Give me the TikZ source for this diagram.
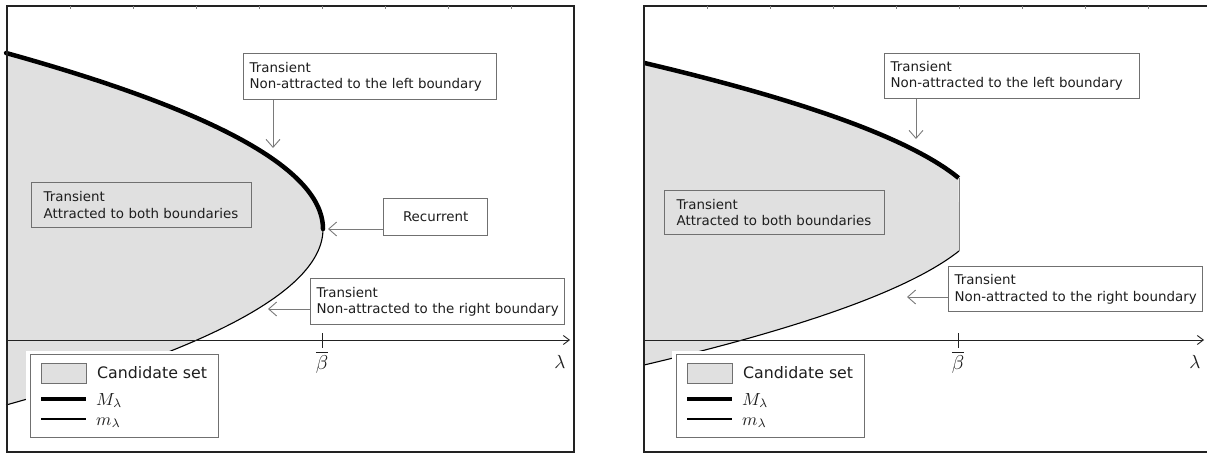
\documentclass[tikz,border=0pt]{standalone}
\usepackage{graphicx}
\usepackage{fontspec}
\setmainfont{DejaVu Sans}
\usetikzlibrary{arrows.meta}
\definecolor{cand}{HTML}{E0E0E0}
\definecolor{boxgray}{HTML}{707070}
\definecolor{arrgray}{HTML}{7A7A7A}
\definecolor{txt}{HTML}{1E1E1E}
\definecolor{framec}{HTML}{222222}
\newcommand{\bigmath}[2]{\scalebox{#1}{$#2$}}
\begin{document}
\begin{tikzpicture}[x=1pt,y=-1pt,
  infobox/.style={draw=boxgray, line width=1.3pt, fill=white, text=txt, anchor=north west,
    align=left, inner xsep=8pt, inner ysep=0pt, font=\fontsize{13.4}{16.3}\selectfont},
  arr/.style={draw=arrgray, line width=0.9pt, -{Straight Barb[length=8pt,width=14pt,line width=0.9pt]}},
  axisline/.style={draw=framec, line width=0.9pt, -{Straight Barb[length=6pt,width=9pt]}},
  framebox/.style={draw=framec, line width=1.4pt},
  topticks/.style={draw=gray, line width=0.8pt},
  Mline/.style={line width=4.5pt, black},
  mline/.style={line width=1.1pt, black},
  legbox/.style={draw=boxgray, line width=1.3pt, fill=white, inner sep=0pt},
  swatch/.style={draw=boxgray, line width=1.2pt, fill=cand, inner sep=0pt},
  legtext/.style={inner sep=0pt, text=txt, font=\fontsize{15.8}{18}\selectfont},
  legmath/.style={inner sep=0pt, text=txt},
  axlabel/.style={inner sep=0pt, text=txt}
]
\useasboundingbox (0,0) rectangle (1207,455);
\fill[white] (0,0) rectangle (1207,455);

% ================= LEFT PANEL =================
\fill[cand] (7,53) -- plot[domain=53:405, samples=80] ({323-1.023*((\x-229)/10)^2},\x) -- cycle;
\draw[Mline, line cap=round] plot[domain=53:229, samples=60] ({323-1.023*((\x-229)/10)^2},\x);
\draw[mline] plot[domain=229:405, samples=60] ({323-1.023*((\x-229)/10)^2},\x);
\draw[framebox] (7,6) rectangle (574,452);
\foreach \k in {1,...,8} \draw[topticks] (7+63*\k,6) -- ++(0,3);
\coordinate (axL0) at (7,340);
\coordinate (axL1) at (570,340);
\draw[axisline] (axL0) -- (axL1);
\draw[framec, line width=1pt] (322,333) -- (322,348);
\node[axlabel] (betaL) at (322,362) {\bigmath{2}{\overline{\beta}}};
\node[axlabel] (lamL) at (560,362) {\bigmath{1.9}{\lambda}};

\node[infobox, inner xsep=6pt, text width=241pt, minimum height=46pt] (L1) at (243,53) {Transient\\\mbox{Non-attracted to the left boundary}};
\node[infobox, fill=cand, inner xsep=12pt, text width=196pt, minimum height=45pt] (L2) at (31,182) {Transient\\\mbox{Attracted to both boundaries}};
\node[infobox, align=center, inner xsep=0pt, text width=104pt, minimum height=37pt] (Rec) at (383,198) {Recurrent};
\node[infobox, inner xsep=6pt, text width=242pt, minimum height=46pt] (L4) at (310,278) {Transient\\\mbox{Non-attracted to the right boundary}};

\coordinate (tL1) at (273,148);
\coordinate (tRec) at (328,229);
\coordinate (tL4) at (268,309);
\draw[arr] (L1.south -| tL1) -- (tL1);
\draw[arr] (Rec.west |- tRec) -- (tRec);
\draw[arr] (L4.west |- tL4) -- (tL4);

\fill[white] (26,351) rectangle (222,441);
\node[legbox, minimum width=188pt, minimum height=83pt, anchor=north west] (LegL) at (30,354) {};
\node[swatch, minimum width=45pt, minimum height=20pt, anchor=north west] (swL) at (41,363) {};
\node[legtext, anchor=west] (cL) at (97,373) {Candidate set};
\draw[Mline] (41,399) -- (86,399);
\draw[mline] (41,419) -- (86,419);
\node[legmath, anchor=base west] (ML) at (96,405) {\bigmath{1.75}{M_\lambda}};
\node[legmath, anchor=base west] (mL) at (96,425) {\bigmath{1.75}{m_\lambda}};

% ================= RIGHT PANEL =================
\fill[cand] (644,63) -- plot[domain=63:178, samples=60] ({987-1.313*((\x-224.5)/10)^2},\x)
  -- plot[domain=251:365, samples=60] ({989.5-1.313*((\x-202.8)/10)^2},\x) -- cycle;
\draw[Mline] plot[domain=63:178, samples=60] ({987-1.313*((\x-224.5)/10)^2},\x);
\draw[mline] plot[domain=251:365, samples=60] ({989.5-1.313*((\x-202.8)/10)^2},\x);
\draw[gray, line width=0.8pt] (959,178) -- (959,251);
\draw[framebox] (644,6) rectangle (1211,452);
\foreach \k in {1,...,8} \draw[topticks] (644+63*\k,6) -- ++(0,3);
\coordinate (axR0) at (644,340);
\coordinate (axR1) at (1204,340);
\draw[axisline] (axR0) -- (axR1);
\draw[framec, line width=1pt] (958,333) -- (958,348);
\node[axlabel] (betaR) at (958,362) {\bigmath{2}{\overline{\beta}}};
\node[axlabel] (lamR) at (1195,362) {\bigmath{1.9}{\lambda}};

\node[infobox, inner xsep=6pt, text width=243pt, minimum height=45pt] (R1) at (884,53) {Transient\\\mbox{Non-attracted to the left boundary}};
\node[infobox, fill=cand, inner xsep=12pt, text width=196pt, minimum height=44pt] (R2) at (664,190) {Transient\\\mbox{Attracted to both boundaries}};
\node[infobox, inner xsep=6pt, text width=242pt, minimum height=45pt] (R4) at (948,266) {Transient\\\mbox{Non-attracted to the right boundary}};

\coordinate (tR1) at (916,139);
\coordinate (tR4) at (907,297);
\draw[arr] (R1.south -| tR1) -- (tR1);
\draw[arr] (R4.west |- tR4) -- (tR4);

\fill[white] (672,351) rectangle (868,441);
\node[legbox, minimum width=188pt, minimum height=83pt, anchor=north west] (LegR) at (676,354) {};
\node[swatch, minimum width=45pt, minimum height=20pt, anchor=north west] (swR) at (687,363) {};
\node[legtext, anchor=west] (cR) at (743,373) {Candidate set};
\draw[Mline] (687,399) -- (732,399);
\draw[mline] (687,419) -- (732,419);
\node[legmath, anchor=base west] (MR) at (742,405) {\bigmath{1.75}{M_\lambda}};
\node[legmath, anchor=base west] (mR) at (742,425) {\bigmath{1.75}{m_\lambda}};
\end{tikzpicture}
\end{document}
